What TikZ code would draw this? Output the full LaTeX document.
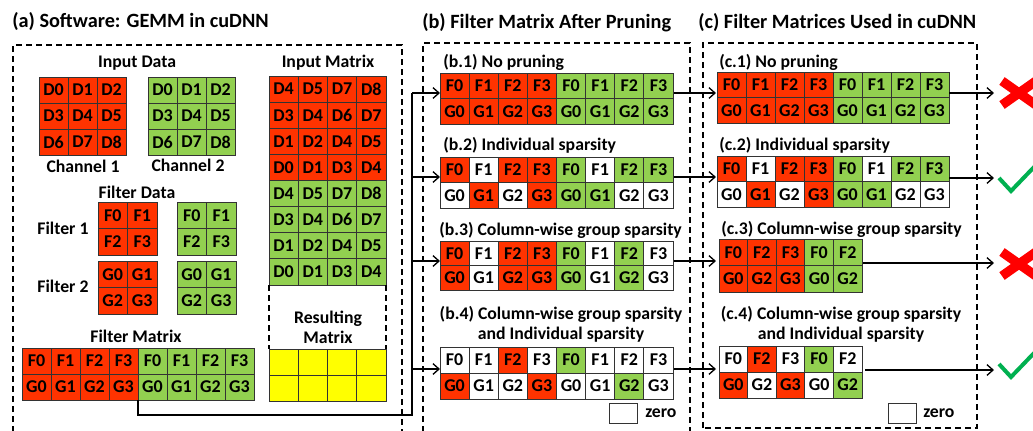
\documentclass[tikz,border=0pt]{standalone}
\usepackage{fontspec}
\setmainfont{Carlito}
\usetikzlibrary{arrows.meta}

\definecolor{cr}{HTML}{FF3300}
\definecolor{cg}{HTML}{92D050}
\definecolor{cy}{HTML}{FFFF00}
\colorlet{cw}{white}
\definecolor{xred}{HTML}{FF0000}
\definecolor{tgreen}{HTML}{00B050}

\newcommand{\cellfont}{\fontsize{13.5pt}{15pt}\selectfont\bfseries}
\newcommand{\labfont}{\fontsize{13.3pt}{15pt}\selectfont\bfseries}
\newcommand{\ttlfont}{\fontsize{15.2pt}{17pt}\selectfont\bfseries}

% one row of a matrix: name, left x, centre y, cell width, cell height, fill/text list
\newcommand{\gridrow}[6]{%
  \foreach \gfill/\gtext [count=\i] in {#6}{%
    \node[cellbox, fill=\gfill, minimum width=#4*0.75pt, minimum height=#5*0.75pt]
      (#1-\i) at ({#2+(\i-0.5)*#4},#3) {\gtext};
  }}

\begin{document}
\begin{tikzpicture}[x=0.75pt,y=-0.75pt,
  cellbox/.style={draw=black!80, line width=0.6pt, inner sep=0pt, outer sep=0pt, font=\cellfont, text=black},
  lab/.style={inner sep=0pt, font=\labfont, align=center},
  ttl/.style={inner sep=0pt, font=\ttlfont, anchor=west},
  dbox/.style={draw=black, line width=1.1pt, dash pattern=on 4.5pt off 3pt},
  conn/.style={draw=black, line width=1pt},
  arr/.style={conn, -{Straight Barb[length=4.5pt,width=8pt]}},
  xmark/.style={draw=xred, line width=7pt},
  tick/.style={draw=tgreen, line width=3pt},
  legbox/.style={draw=black!80, line width=0.6pt, fill=white, minimum width=28*0.75pt, minimum height=20*0.75pt, inner sep=0pt},
]
\useasboundingbox (0,0) rectangle (1033,430);

% ---------------- titles ----------------
\node[ttl] (ta) at (12,22) {(a) Software: GEMM in cuDNN};
\node[ttl] (tb) at (422,23) {(b) Filter Matrix After Pruning};
\node[ttl] (tc) at (698,23) {(c) Filter Matrices Used in cuDNN};

% ---------------- panel frames ----------------
\draw[dbox] (13,432) -- (13,45) -- (402,45) -- (402,432);
\draw[dbox] (423,432) -- (423,43) -- (690,43) -- (690,432);
\draw[dbox] (703,428) rectangle (977,43);

% ---------------- (a) input data ----------------
\node[lab] (lin) at (137,63) {Input Data};
\gridrow{chA-1}{39}{90}{29}{26}{cr/D0,cr/D1,cr/D2}
\gridrow{chA-2}{39}{116}{29}{26}{cr/D3,cr/D4,cr/D5}
\gridrow{chA-3}{39}{142}{29}{26}{cr/D6,cr/D7,cr/D8}
\gridrow{chB-1}{148}{90}{29}{26}{cg/D0,cg/D1,cg/D2}
\gridrow{chB-2}{148}{116}{29}{26}{cg/D3,cg/D4,cg/D5}
\gridrow{chB-3}{148}{142}{29}{26}{cg/D6,cg/D7,cg/D8}
\node[lab] (lch1) at (83,166) {Channel 1};
\node[lab] (lch2) at (188,165) {Channel 2};

% ---------------- (a) filter data ----------------
\node[lab] (lfd) at (137,192) {Filter Data};
\node[lab] (lf1) at (63,228) {Filter 1};
\node[lab] (lf2) at (63,286) {Filter 2};
\gridrow{fA-1}{98}{215.25}{29.5}{26.5}{cr/F0,cr/F1}
\gridrow{fA-2}{98}{241.75}{29.5}{26.5}{cr/F2,cr/F3}
\gridrow{fB-1}{177}{215.25}{29.5}{26.5}{cg/F0,cg/F1}
\gridrow{fB-2}{177}{241.75}{29.5}{26.5}{cg/F2,cg/F3}
\gridrow{gA-1}{98}{274.25}{29.5}{26.5}{cr/G0,cr/G1}
\gridrow{gA-2}{98}{300.75}{29.5}{26.5}{cr/G2,cr/G3}
\gridrow{gB-1}{177}{274.25}{29.5}{26.5}{cg/G0,cg/G1}
\gridrow{gB-2}{177}{300.75}{29.5}{26.5}{cg/G2,cg/G3}

% ---------------- (a) filter matrix ----------------
\node[lab] (lfm) at (136,336) {Filter Matrix};
\gridrow{fm-1}{22}{361}{29}{26}{cr/F0,cr/F1,cr/F2,cr/F3,cg/F0,cg/F1,cg/F2,cg/F3}
\gridrow{fm-2}{22}{387}{29}{26}{cr/G0,cr/G1,cr/G2,cr/G3,cg/G0,cg/G1,cg/G2,cg/G3}

% ---------------- (a) input matrix ----------------
\node[lab] (lim) at (328,63) {Input Matrix};
\gridrow{im-1}{269}{89.06}{29.25}{26.125}{cr/D4,cr/D5,cr/D7,cr/D8}
\gridrow{im-2}{269}{115.19}{29.25}{26.125}{cr/D3,cr/D4,cr/D6,cr/D7}
\gridrow{im-3}{269}{141.31}{29.25}{26.125}{cr/D1,cr/D2,cr/D4,cr/D5}
\gridrow{im-4}{269}{167.44}{29.25}{26.125}{cr/D0,cr/D1,cr/D3,cr/D4}
\gridrow{im-5}{269}{193.56}{29.25}{26.125}{cg/D4,cg/D5,cg/D7,cg/D8}
\gridrow{im-6}{269}{219.69}{29.25}{26.125}{cg/D3,cg/D4,cg/D6,cg/D7}
\gridrow{im-7}{269}{245.81}{29.25}{26.125}{cg/D1,cg/D2,cg/D4,cg/D5}
\gridrow{im-8}{269}{271.94}{29.25}{26.125}{cg/D0,cg/D1,cg/D3,cg/D4}

% ---------------- (a) resulting matrix ----------------
\gridrow{rm-1}{269}{362}{29.25}{26}{cy/{},cy/{},cy/{},cy/{}}
\gridrow{rm-2}{269}{388}{29.25}{26}{cy/{},cy/{},cy/{},cy/{}}
\draw[dbox, line width=0.9pt] (im-8-1.south west) -- (rm-1-1.north west);
\draw[dbox, line width=0.9pt] (im-8-4.south east) -- (rm-1-4.north east);
\node[lab] (lrm) at (328,327) {Resulting\\Matrix};

% ---------------- (b) pruned filter matrices ----------------
\node[lab, anchor=west] (lb1) at (443,62) {(b.1) No pruning};
\gridrow{b1-1}{440}{85.75}{29.125}{25.5}{cr/F0,cr/F1,cr/F2,cr/F3,cg/F0,cg/F1,cg/F2,cg/F3}
\gridrow{b1-2}{440}{111.25}{29.125}{25.5}{cr/G0,cr/G1,cr/G2,cr/G3,cg/G0,cg/G1,cg/G2,cg/G3}

\node[lab, anchor=west] (lb2) at (443,145) {(b.2) Individual sparsity};
\gridrow{b2-1}{440}{169.75}{29.125}{25.5}{cr/F0,cw/F1,cr/F2,cr/F3,cg/F0,cw/F1,cg/F2,cg/F3}
\gridrow{b2-2}{440}{195.25}{29.125}{25.5}{cw/G0,cr/G1,cw/G2,cr/G3,cg/G0,cg/G1,cw/G2,cw/G3}

\node[lab, anchor=west] (lb3) at (439,230) {(b.3) Column-wise group sparsity};
\gridrow{b3-1}{440}{253.25}{29.125}{24.5}{cr/F0,cw/F1,cr/F2,cr/F3,cg/F0,cw/F1,cg/F2,cw/F3}
\gridrow{b3-2}{440}{277.75}{29.125}{24.5}{cr/G0,cw/G1,cr/G2,cr/G3,cg/G0,cw/G1,cg/G2,cw/G3}

\node[lab] (lb4) at (561,324) {(b.4) Column-wise group sparsity\\and Individual sparsity};
\gridrow{b4-1}{440}{360}{29.125}{26}{cw/F0,cw/F1,cr/F2,cw/F3,cg/F0,cw/F1,cw/F2,cw/F3}
\gridrow{b4-2}{440}{386}{29.125}{26}{cr/G0,cw/G1,cw/G2,cr/G3,cw/G0,cw/G1,cg/G2,cw/G3}

\node[legbox] (zb) at (623,413) {};
\node[lab, anchor=west] (lzb) at (645,413) {zero};

% ---------------- (c) filter matrices used in cuDNN ----------------
\node[lab, anchor=west] (lc1) at (719,62) {(c.1) No pruning};
\gridrow{c1-1}{717}{84.75}{29}{25.5}{cr/F0,cr/F1,cr/F2,cr/F3,cg/F0,cg/F1,cg/F2,cg/F3}
\gridrow{c1-2}{717}{110.25}{29}{25.5}{cr/G0,cr/G1,cr/G2,cr/G3,cg/G0,cg/G1,cg/G2,cg/G3}

\node[lab, anchor=west] (lc2) at (719,145) {(c.2) Individual sparsity};
\gridrow{c2-1}{717}{168.75}{29}{25.5}{cr/F0,cw/F1,cr/F2,cr/F3,cg/F0,cw/F1,cg/F2,cg/F3}
\gridrow{c2-2}{717}{194.25}{29}{25.5}{cw/G0,cr/G1,cw/G2,cr/G3,cg/G0,cg/G1,cw/G2,cw/G3}

\node[lab, anchor=west] (lc3) at (721,229) {(c.3) Column-wise group sparsity};
\gridrow{c3-1}{719}{252.25}{28.6}{26.5}{cr/F0,cr/F2,cr/F3,cg/F0,cg/F2}
\gridrow{c3-2}{719}{278.75}{28.6}{26.5}{cr/G0,cr/G2,cr/G3,cg/G0,cg/G2}

\node[lab] (lc4) at (841,324) {(c.4) Column-wise group sparsity\\and Individual sparsity};
\gridrow{c4-1}{719}{359}{28.6}{26}{cw/F0,cr/F2,cw/F3,cg/F0,cw/F2}
\gridrow{c4-2}{719}{385}{28.6}{26}{cr/G0,cw/G2,cr/G3,cw/G0,cg/G2}

\node[legbox] (zc) at (902.5,413) {};
\node[lab, anchor=west] (lzc) at (923,413) {zero};

% ---------------- connectors ----------------
\coordinate (busTop) at (412,93);
\coordinate (busBot) at (412,415);
\coordinate (b1in) at (440,93);  \coordinate (b1out) at (674,93);
\coordinate (b2in) at (440,177); \coordinate (b2out) at (674,177);
\coordinate (b3in) at (440,261); \coordinate (b3out) at (674,261);
\coordinate (b4in) at (440,369); \coordinate (b4out) at (674,369);
\coordinate (c1in) at (716,93);  \coordinate (c1out) at (949,93);
\coordinate (c2in) at (716,177); \coordinate (c2out) at (949,178);
\coordinate (c3in) at (716,261); \coordinate (c3out) at (863,263);
\coordinate (c4in) at (716,369); \coordinate (c4out) at (865,370);
\coordinate (o1) at (994,93);
\coordinate (o2) at (994,178);
\coordinate (o3) at (994,263);
\coordinate (o4) at (994,370);

\draw[conn] (fm-2-4.south east) |- (busBot) -- (busTop);
\draw[arr] (busTop) -- (b1in);
\draw[arr] (busBot |- b2in) -- (b2in);
\draw[arr] (busBot |- b3in) -- (b3in);
\draw[arr] (busBot |- b4in) -- (b4in);

\draw[arr] (b1out) -- (c1in);
\draw[arr] (b2out) -- (c2in);
\draw[arr] (b3out) -- (c3in);
\draw[arr] (b4out) -- (c4in);

\draw[arr] (c1out) -- (o1);
\draw[arr] (c2out) -- (o2);
\draw[arr] (c3out) -- (o3);
\draw[arr] (c4out) -- (o4);

% ---------------- verdict marks ----------------
\draw[xmark] (1002,81) -- (1036,105);
\draw[xmark] (1002,105) -- (1036,81);
\draw[xmark] (1002,252) -- (1036,276);
\draw[xmark] (1002,276) -- (1036,252);
\draw[tick] (999,178) -- (1011,191) -- (1036,165);
\draw[tick] (999,364) -- (1011,377) -- (1036,351);
\end{tikzpicture}
\end{document}
